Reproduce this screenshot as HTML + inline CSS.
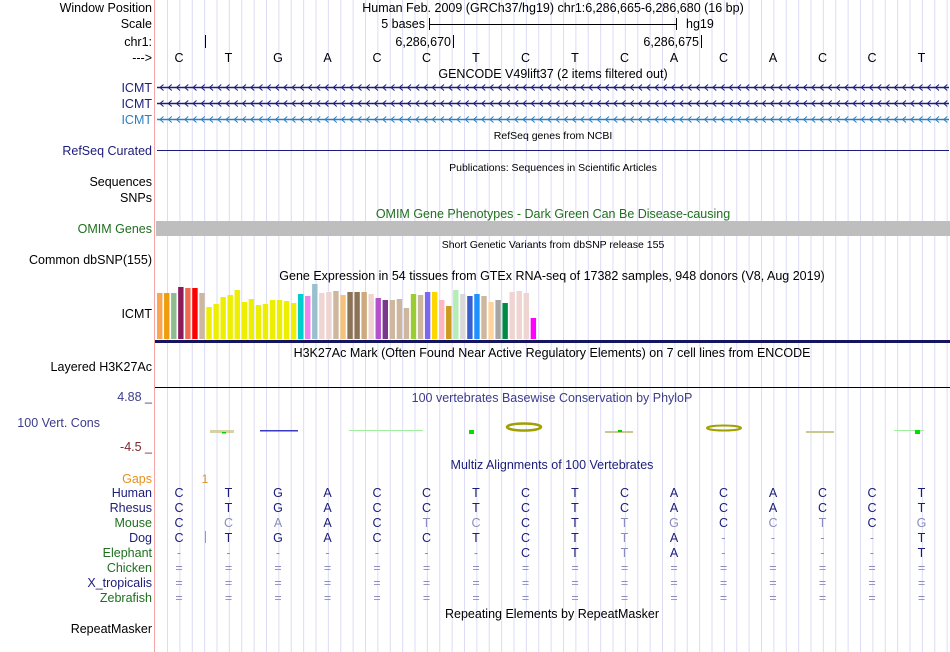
<!DOCTYPE html>
<html><head><meta charset="utf-8"><style>
html,body{margin:0;padding:0;background:#fff;}
svg{display:block;font-family:"Liberation Sans",sans-serif;}
</style></head><body>
<svg id="c" width="950" height="652" viewBox="0 0 950 652" xmlns="http://www.w3.org/2000/svg">
<g id="grid"></g>
<line x1="154.5" y1="0" x2="154.5" y2="652" stroke="#f4a6a6"/>
<g id="labels" font-size="12.5" text-anchor="end">
<text x="152" y="12" fill="#000">Window Position</text>
<text x="152" y="28" fill="#000">Scale</text>
<text x="152" y="46" fill="#000">chr1:</text>
<text x="152" y="62" fill="#000">---&gt;</text>
<text x="152" y="92" fill="#1c1c7a">ICMT</text>
<text x="152" y="108" fill="#1c1c7a">ICMT</text>
<text x="152" y="124" fill="#2a7fbf">ICMT</text>
<text x="152" y="155" fill="#1c1c7a">RefSeq Curated</text>
<text x="152" y="186" fill="#000">Sequences</text>
<text x="152" y="202" fill="#000">SNPs</text>
<text x="152" y="233" fill="#1f6f1f">OMIM Genes</text>
<text x="152" y="264" fill="#000">Common dbSNP(155)</text>
<text x="152" y="318" fill="#000">ICMT</text>
<text x="152" y="371" fill="#000">Layered H3K27Ac</text>
<text x="100" y="427" fill="#3c3c8c">100 Vert. Cons</text>
<text x="152" y="401" fill="#3c3c8c">4.88 _</text>
<text x="152" y="451" fill="#7a2a2a">-4.5 _</text>
<text x="152" y="483" fill="#e8901c">Gaps</text>
<text x="152" y="633" fill="#000">RepeatMasker</text>
</g>
<g font-size="12.5" text-anchor="middle">
<text x="553" y="12">Human Feb. 2009 (GRCh37/hg19)   chr1:6,286,665-6,286,680 (16 bp)</text>
<text x="553" y="78">GENCODE V49lift37 (2 items filtered out)</text>
<text x="553" y="139" font-size="10.5">RefSeq genes from NCBI</text>
<text x="553" y="171" font-size="10.5">Publications: Sequences in Scientific Articles</text>
<text x="553" y="218" fill="#1f6f1f">OMIM Gene Phenotypes - Dark Green Can Be Disease-causing</text>
<text x="553" y="248" font-size="10.5">Short Genetic Variants from dbSNP release 155</text>
<text x="552" y="280">Gene Expression in 54 tissues from GTEx RNA-seq of 17382 samples, 948 donors (V8, Aug 2019)</text>
<text x="552" y="357">H3K27Ac Mark (Often Found Near Active Regulatory Elements) on 7 cell lines from ENCODE</text>
<text x="552" y="402" fill="#3c3c8c">100 vertebrates Basewise Conservation by PhyloP</text>
<text x="552" y="469" fill="#1c1c7a">Multiz Alignments of 100 Vertebrates</text>
<text x="552" y="618">Repeating Elements by RepeatMasker</text>
</g>
<g font-size="12.5">
<text x="425" y="28" text-anchor="end">5 bases</text>
<line x1="429.5" y1="18" x2="429.5" y2="30" stroke="#000"/>
<line x1="676.5" y1="18" x2="676.5" y2="30" stroke="#000"/>
<line x1="429.5" y1="24.5" x2="676.5" y2="24.5" stroke="#000"/>
<text x="686" y="28">hg19</text>
<line x1="205.5" y1="35" x2="205.5" y2="48" stroke="#000"/>
<text x="451" y="46" text-anchor="end">6,286,670</text>
<line x1="453.5" y1="35" x2="453.5" y2="48" stroke="#000"/>
<text x="699" y="46" text-anchor="end">6,286,675</text>
<line x1="701.5" y1="35" x2="701.5" y2="48" stroke="#000"/>
</g>
<g id="bases" font-size="12.5" text-anchor="middle"></g>
<g id="genes"></g>
<line x1="157" y1="150.5" x2="949" y2="150.5" stroke="#1c1c7a"/>
<rect x="156" y="221" width="794" height="15" fill="#bebebe"/>
<g id="gtex"></g>
<rect x="155" y="340" width="795" height="3" fill="#14145f"/>
<line x1="155" y1="387.5" x2="950" y2="387.5" stroke="#000"/>
<g>
<rect x="210" y="430" width="24" height="3" fill="#c8c890" opacity="0.8"/>
<rect x="222" y="432" width="4" height="1.5" fill="#00d000"/>
<rect x="260" y="430" width="38" height="1.5" fill="#3a3ac0"/>
<rect x="349" y="430" width="74" height="1" fill="#a0f0a0"/>
<rect x="469" y="430" width="5" height="4" fill="#00e000"/>
<ellipse cx="524" cy="427" rx="17" ry="3.5" fill="none" stroke="#a0a000" stroke-width="2.5"/>
<rect x="605" y="431" width="28" height="2" fill="#c8c890"/>
<rect x="618" y="430" width="4" height="2" fill="#00d000"/>
<ellipse cx="724" cy="428" rx="17" ry="2.5" fill="none" stroke="#a0a000" stroke-width="2"/>
<rect x="806" y="431" width="28" height="2" fill="#c8c890"/>
<rect x="894" y="430" width="30" height="1" fill="#a0f0a0"/>
<rect x="915" y="430" width="5" height="4" fill="#00e000"/>
</g>
<text x="205" y="483" font-size="12" fill="#e8901c" text-anchor="middle">1</text>
<line x1="205.5" y1="531" x2="205.5" y2="543" stroke="#e8901c"/>
<g id="align" font-size="12.5" text-anchor="middle"></g>
</svg>
<script>
const species = ["Human","Rhesus","Mouse","Dog","Elephant","Chicken","X_tropicalis","Zebrafish"];
const speciesColors = ["#1c1c7a","#1c1c7a","#1f6f1f","#1c1c7a","#1f6f1f","#1f6f1f","#1c1c7a","#1f6f1f"];
const refSeq = "CTGACCTCTCACACCT";
const alnSeqs = ["CTGACCTCTCACACCT","CTGACCTCTCACACCT","CCAACTCCTTGCCTCG","CTGACCTCTTA----T","-------CTTA----T","================","================","================"];
const gtexValues = [46,46,46,52,51,51,46,32,35,42,44,49,37,40,34,35,39,39,38,36,45,43,55,46,47,48,44,47,47,47,45,41,39,39,40,31,45,44,47,47,39,33,49,45,43,45,43,37,39,36,47,48,46,21];
const gtexColors = ["#f9a552","#ee9e0d","#8fbc8f","#8b1a5a","#ee6a50","#ff0000","#cdb79e","#eeee00","#eeee00","#eeee00","#eeee00","#eeee00","#eeee00","#eeee00","#eeee00","#eeee00","#eeee00","#eeee00","#eeee00","#eeee00","#00cdcd","#ee82ee","#9ac0cd","#eed5d2","#eed5d2","#cdb79e","#f4c27a","#8b7355","#8b7355","#cdaa7d","#eed5d2","#b452cd","#7a378b","#cdb79e","#cdb79e","#cdb79e","#9acd32","#cdb79e","#7b68ee","#ffd700","#ffb6c1","#cd9b1d","#b4eeb4","#d9d9d9","#3a5fcd","#1e90ff","#cdb79e","#ffd39b","#a6a6a6","#008b45","#eed5d2","#eed5d2","#eed5d2","#ff00ff"];
const NS="http://www.w3.org/2000/svg";
function mk(tag,attrs,parent){const e=document.createElementNS(NS,tag);for(const k in attrs)e.setAttribute(k,attrs[k]);parent.appendChild(e);return e;}
const baseX = i => 179 + 49.5*i;
const gtexX = i => 157 + 7.05*i;
const gtexY = v => 339 - v;
const grid=document.getElementById('grid');
for(let k=0;k<64;k++){const x=167.5+12.375*k; if(x>950)break;
 const l=mk('line',{x1:x,y1:0,x2:x,y2:652,stroke:'#dcdcf4'},grid);
 
 }
const bases=document.getElementById('bases');
for(let i=0;i<refSeq.length;i++){const t=mk('text',{x:baseX(i),y:62},bases);t.textContent=refSeq[i];
 
 }
const genes=document.getElementById('genes');
[[87,'#1c1c7a'],[103,'#1c1c7a'],[119,'#2a7fbf']].forEach(([y,c])=>{
 const g=mk('g',{stroke:c,fill:'none'},genes);
 
 
 mk('line',{x1:157,y1:y+0.5,x2:949,y2:y+0.5,'stroke-width':1.5},g);
 let d='';for(let x=160;x<949;x+=8.25){d+=`M${x+3.5},${y-2.5}L${x},${y+0.5}L${x+3.5},${y+3.5}`;}
 mk('path',{d:d},g);
});
const gt=document.getElementById('gtex');
for(let i=0;i<gtexValues.length;i++){const r=mk('rect',{x:gtexX(i),y:gtexY(gtexValues[i]),width:5.4,height:gtexValues[i],fill:gtexColors[i]},gt);
 
 }
const al=document.getElementById('align');
const lab=document.getElementById('labels');
species.forEach((s,r)=>{const y=497+15*r;
 const t=mk('text',{x:152,y:y,fill:speciesColors[r]},lab);t.textContent=s;
 
 
 for(let i=0;i<refSeq.length;i++){const ch=alnSeqs[r][i];
  const match=ch===refSeq[i];
  const e=mk('text',{x:baseX(i),y:y,fill:match?'#1c1c7a':'#8c8cc0'},al);
  e.textContent=ch;
  
  }
});
</script>
</body></html>
